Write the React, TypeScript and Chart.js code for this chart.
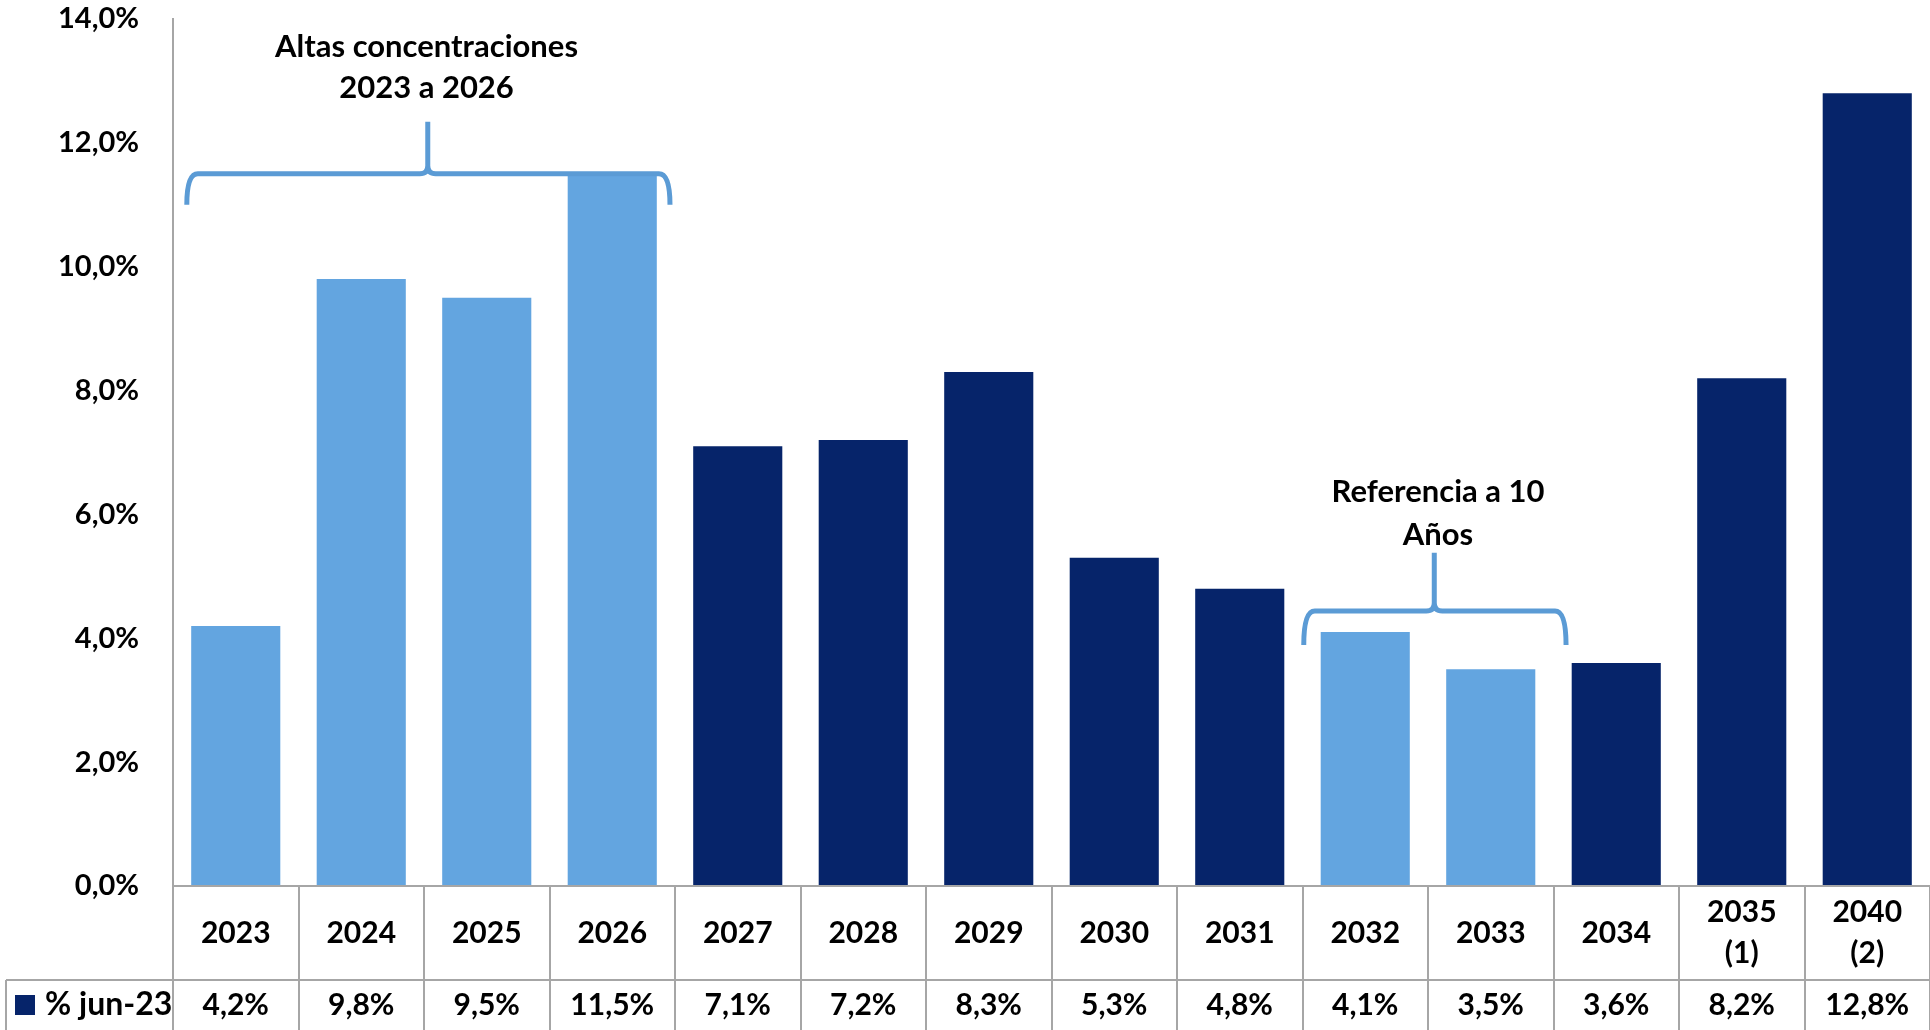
import { useEffect, useRef } from "react";
import { Chart, registerables } from "chart.js";

Chart.register(...registerables);

// ---- data ----
const categories = [
  "2023", "2024", "2025", "2026", "2027", "2028", "2029",
  "2030", "2031", "2032", "2033", "2034", "2035 (1)", "2040 (2)",
];
const values = [4.2, 9.8, 9.5, 11.5, 7.1, 7.2, 8.3, 5.3, 4.8, 4.1, 3.5, 3.6, 8.2, 12.8];
const highlighted = ["2023", "2024", "2025", "2026", "2032", "2033"];
const seriesLabel = "% jun-23";
const yTickValues = [0, 2, 4, 6, 8, 10, 12, 14];
const braceTexts = [
  ["Altas concentraciones", "2023 a 2026"],
  ["Referencia a 10", "Años"],
];

// ---- style / layout ----
const LIGHT = "#63A5E0";
const NAVY = "#06246A";
const BRACE = "#5B9BD5";
const GRID = "#a6a6a6";
const FONT = "Lato";
const TICK_SIZE = 29;
const TABLE_SIZE = 30;
const NOTE_SIZE = 31;
const CAT_ROW_H = 94;

// brace geometry in scale units (x: category index, y: percent)
const braceGeom = [
  { x0: -0.39, x1: 3.46, xc: 1.53, yLine: 11.5, yEnd: 11.0, yPeak: 12.34, textX: 1.52, textY: [13.55, 12.89] },
  { x0: 8.51, x1: 10.6, xc: 9.55, yLine: 4.44, yEnd: 3.89, yPeak: 5.38, textX: 9.58, textY: [6.36, 5.67] },
];

const fmt = (v: number) => v.toFixed(1).replace(".", ",") + "%";

const tablePlugin = {
  id: "tablePlugin",
  afterDatasetsDraw(chart: any) {
    const { ctx, scales } = chart;
    const x = scales.x;
    const y = scales.y;
    ctx.save();
    ctx.strokeStyle = BRACE;
    ctx.lineWidth = 5;
    ctx.lineCap = "butt";
    ctx.lineJoin = "round";
    braceGeom.forEach((b, bi) => {
      const x0 = x.getPixelForValue(b.x0);
      const x1 = x.getPixelForValue(b.x1);
      const xc = x.getPixelForValue(b.xc);
      const yl = y.getPixelForValue(b.yLine);
      const ye = y.getPixelForValue(b.yEnd);
      const yp = y.getPixelForValue(b.yPeak);
      const r = 11;
      const rm = 8;
      ctx.beginPath();
      ctx.moveTo(x0, ye);
      ctx.quadraticCurveTo(x0, yl, x0 + r, yl);
      ctx.lineTo(xc - rm, yl);
      ctx.quadraticCurveTo(xc, yl, xc, yl - rm);
      ctx.lineTo(xc, yp);
      ctx.moveTo(xc, yl - rm);
      ctx.quadraticCurveTo(xc, yl, xc + rm, yl);
      ctx.lineTo(x1 - r, yl);
      ctx.quadraticCurveTo(x1, yl, x1, ye);
      ctx.stroke();

      ctx.fillStyle = "#000";
      ctx.font = `bold ${NOTE_SIZE}px ${FONT}`;
      ctx.textAlign = "center";
      ctx.textBaseline = "middle";
      const tx = x.getPixelForValue(b.textX);
      braceTexts[bi].forEach((t, i) => {
        ctx.fillText(t, tx, y.getPixelForValue(b.textY[i]));
      });
    });
    ctx.restore();
  },
  afterDraw(chart: any) {
    const { ctx, chartArea, scales } = chart;
    const x = scales.x;
    const top = chartArea.bottom;
    const mid = top + CAT_ROW_H;
    const bottom = chart.height;
    const left = chartArea.left;
    const right = chartArea.right;
    const labelLeft = 6;

    ctx.save();
    ctx.strokeStyle = GRID;
    ctx.lineWidth = 2;
    ctx.beginPath();
    ctx.moveTo(left, top);
    ctx.lineTo(right, top);
    ctx.moveTo(labelLeft, mid);
    ctx.lineTo(right, mid);
    ctx.moveTo(labelLeft, mid);
    ctx.lineTo(labelLeft, bottom);
    for (let i = 0; i <= categories.length; i++) {
      const bx = Math.round(x.getPixelForValue(i - 0.5));
      ctx.moveTo(bx, top);
      ctx.lineTo(bx, bottom);
    }
    ctx.stroke();

    ctx.fillStyle = "#000";
    ctx.font = `bold ${TABLE_SIZE}px ${FONT}`;
    ctx.textAlign = "center";
    ctx.textBaseline = "middle";
    const catMid = (top + mid) / 2;
    const dataMid = mid + 25;
    categories.forEach((c, i) => {
      const cx = x.getPixelForValue(i);
      const lines = c.split(" ");
      const lh = 41;
      lines.forEach((ln, li) => {
        ctx.fillText(ln, cx, catMid - ((lines.length - 1) * lh) / 2 + li * lh);
      });
      ctx.fillText(fmt(values[i]), cx, dataMid);
    });

    // legend key
    ctx.fillStyle = NAVY;
    ctx.fillRect(15, dataMid - 10, 20, 20);
    ctx.fillStyle = "#000";
    ctx.textAlign = "left";
    ctx.font = `bold 32px ${FONT}`;
    ctx.fillText(seriesLabel, 45, dataMid);
    ctx.restore();
  },
};

export default function App() {
  const ref = useRef<HTMLCanvasElement | null>(null);
  useEffect(() => {
    if (!ref.current) return;
    const chart = new Chart(ref.current, {
      type: "bar",
      data: {
        labels: categories,
        datasets: [
          {
            label: seriesLabel,
            data: values,
            backgroundColor: categories.map((c) => (highlighted.includes(c) ? LIGHT : NAVY)),
            borderWidth: 0,
            barPercentage: 0.71,
            categoryPercentage: 1.0,
          },
        ],
      },
      options: {
        animation: false,
        responsive: true,
        maintainAspectRatio: false,
        layout: { padding: { top: 19, bottom: 144, left: 0, right: 0 } },
        plugins: { legend: { display: false }, tooltip: { enabled: false } },
        scales: {
          x: { display: false, offset: true },
          y: {
            min: 0,
            max: 14,
            afterBuildTicks: (s: any) => {
              s.ticks = yTickValues.map((v) => ({ value: v }));
            },
            afterFit: (s: any) => {
              s.width = 173;
              s.paddingTop = 0;
              s.paddingBottom = 0;
            },
            ticks: {
              callback: (v: any) => fmt(Number(v)),
              color: "#000",
              padding: 34,
              font: { family: FONT, weight: "bold", size: TICK_SIZE },
            },
            grid: { display: false, drawTicks: false },
            border: { display: true, color: GRID, width: 2 },
          },
        },
      },
      plugins: [tablePlugin],
    } as any);
    return () => chart.destroy();
  }, []);
  return (
    <div style={{ position: "absolute", left: 0, top: 0, width: 1930, height: 1030, background: "#fff" }}>
      <canvas ref={ref} />
    </div>
  );
}
